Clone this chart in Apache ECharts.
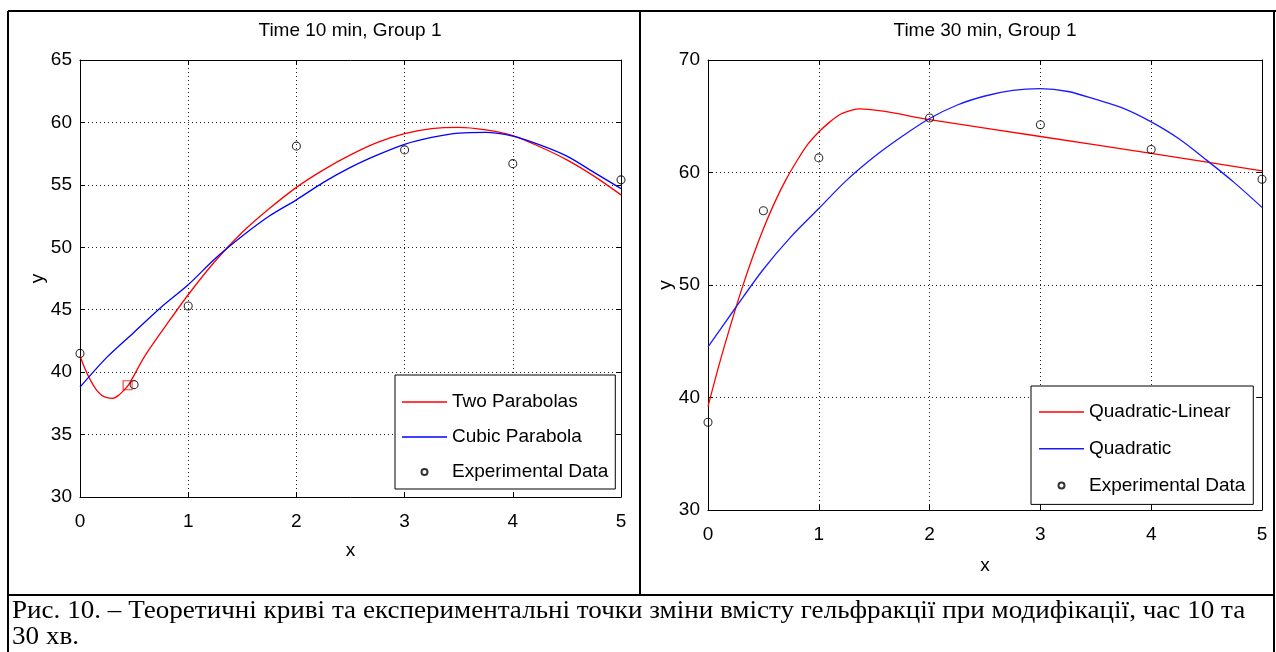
<!DOCTYPE html>
<html>
<head>
<meta charset="utf-8">
<script src="https://cdn.jsdelivr.net/npm/echarts@6/dist/echarts.min.js"></script>
<style>
  html, body { margin: 0; padding: 0; background: #fff; }
  #chart { width: 1276px; height: 652px; }
</style>
</head>
<body>
<div id="chart"></div>
<script>
// ---- Time 10 min, Group 1 ----
const t10ExpX = [0, 0.5, 1, 2, 3, 4, 5];
const t10ExpY = [41.5, 39.0, 45.3, 58.1, 57.8, 56.7, 55.4];

const t10TwoParX = [0, 0.05, 0.1, 0.15, 0.2, 0.25, 0.3, 0.35, 0.4, 0.45, 0.6, 0.8, 1.0, 1.25, 1.5, 1.75, 2.0, 2.25, 2.5, 2.75, 3.0, 3.25, 3.5, 3.75, 4.0, 4.25, 4.5, 4.75, 5.0];
const t10TwoParY = [41.3, 40.2, 39.3, 38.6, 38.15, 37.95, 37.9, 38.1, 38.5, 39.0, 41.3, 43.8, 46.2, 48.9, 51.2, 53.1, 54.8, 56.2, 57.4, 58.4, 59.1, 59.5, 59.6, 59.4, 58.95, 58.05, 57.0, 55.7, 54.2];

const t10CubicX = [0, 0.25, 0.5, 0.75, 1.0, 1.25, 1.5, 1.75, 2.0, 2.25, 2.5, 2.75, 3.0, 3.25, 3.5, 3.75, 4.0, 4.25, 4.5, 4.75, 5.0];
const t10CubicY = [38.8, 41.2, 43.2, 45.2, 47.0, 49.1, 50.9, 52.5, 53.8, 55.2, 56.4, 57.4, 58.25, 58.8, 59.15, 59.2, 58.9, 58.2, 57.3, 56.0, 54.7];

// junction of the two parabolas
const t10JoinX = [0.44];
const t10JoinY = [38.95];

// ---- Time 30 min, Group 1 ----
const t30ExpX = [0, 0.5, 1, 2, 3, 4, 5];
const t30ExpY = [37.8, 56.6, 61.3, 64.85, 64.25, 62.05, 59.4];

const t30QuadLinX = [0, 0.1, 0.2, 0.3, 0.4, 0.5, 0.6, 0.7, 0.8, 0.9, 1.0, 1.1, 1.2, 1.3, 1.37, 2.0, 3.0, 4.0, 5.0];
const t30QuadLinY = [39.2, 42.9, 46.3, 49.5, 52.4, 55.0, 57.3, 59.3, 61.0, 62.5, 63.6, 64.5, 65.2, 65.55, 65.65, 64.7, 63.2, 61.7, 60.15];

const t30QuadX = [0, 0.25, 0.5, 0.75, 1.0, 1.25, 1.5, 1.75, 2.0, 2.25, 2.5, 2.75, 3.0, 3.25, 3.5, 3.75, 4.0, 4.25, 4.5, 4.75, 5.0];
const t30QuadY = [44.5, 48.0, 51.4, 54.3, 56.8, 59.3, 61.4, 63.2, 64.8, 66.0, 66.8, 67.3, 67.45, 67.2, 66.5, 65.7, 64.5, 63.0, 61.1, 59.1, 56.9];

// axis ticks
const xTicks = [0, 1, 2, 3, 4, 5];
const t10YRange = [30, 65, 5];
const t30YRange = [30, 70, 10];

const zip = (xs, ys) => xs.map((x, i) => [x, ys[i]]);

const SANS = '"Liberation Sans", Arial, sans-serif';
const SERIF = '"Liberation Serif", "Times New Roman", serif';
const FS = 19;
const GRID_LINE = { color: '#222', width: 1, type: [1, 3] };
const LINE_ICON = 'path://M0,0H45V1.4H0Z';

function bottomX(gridIndex, nameGap) {
  return {
    type: 'value', gridIndex, position: 'bottom',
    min: xTicks[0], max: xTicks[xTicks.length - 1], interval: 1,
    name: 'x', nameLocation: 'middle', nameGap,
    nameTextStyle: { color: '#000', fontSize: FS, fontFamily: SANS },
    axisLine: { show: true, onZero: false, lineStyle: { color: '#000', width: 1 } },
    axisTick: { show: true, inside: true, length: 5, lineStyle: { color: '#000' } },
    axisLabel: { color: '#000', fontSize: FS, fontFamily: SANS, margin: 15 },
    splitLine: { show: true, lineStyle: GRID_LINE }
  };
}
function topX(gridIndex) {
  return {
    type: 'value', gridIndex, position: 'top',
    min: xTicks[0], max: xTicks[xTicks.length - 1], interval: 1,
    axisLine: { show: true, onZero: false, lineStyle: { color: '#000', width: 1 } },
    axisTick: { show: true, inside: true, length: 5, lineStyle: { color: '#000' } },
    axisLabel: { show: false }, splitLine: { show: false }
  };
}
function leftY(gridIndex, range, nameGap) {
  return {
    type: 'value', gridIndex, position: 'left',
    min: range[0], max: range[1], interval: range[2],
    name: 'y', nameLocation: 'middle', nameGap, nameRotate: 90,
    nameTextStyle: { color: '#000', fontSize: FS, fontFamily: SANS },
    axisLine: { show: true, onZero: false, lineStyle: { color: '#000', width: 1 } },
    axisTick: { show: true, inside: true, length: 5, lineStyle: { color: '#000' } },
    axisLabel: { color: '#000', fontSize: FS, fontFamily: SANS, margin: 8 },
    splitLine: { show: true, lineStyle: GRID_LINE }
  };
}
function rightY(gridIndex, range) {
  return {
    type: 'value', gridIndex, position: 'right',
    min: range[0], max: range[1], interval: range[2],
    axisLine: { show: true, onZero: false, lineStyle: { color: '#000', width: 1 } },
    axisTick: { show: true, inside: true, length: 5, lineStyle: { color: '#000' } },
    axisLabel: { show: false }, splitLine: { show: false }
  };
}
function curve(name, xs, ys, color, axisIdx) {
  return {
    type: 'line', name, data: zip(xs, ys),
    xAxisIndex: axisIdx[0], yAxisIndex: axisIdx[1],
    smooth: 0.3, symbol: 'none', showSymbol: false,
    lineStyle: { color, width: 1.3 }, itemStyle: { color },
    z: 3
  };
}
function points(name, xs, ys, axisIdx, symbol, size, color) {
  return {
    type: 'scatter', name, data: zip(xs, ys),
    xAxisIndex: axisIdx[0], yAxisIndex: axisIdx[1],
    symbol, symbolSize: size,
    itemStyle: { color: 'rgba(0,0,0,0)', borderColor: color, borderWidth: 1.1 },
    z: 5
  };
}
function legendBox(left, top, lineNames, dotName, padding, gap) {
  return {
    orient: 'vertical', left, top,
    data: lineNames.map(n => ({ name: n, icon: LINE_ICON })).concat([{ name: dotName }]),
    backgroundColor: '#fff', borderColor: '#000', borderWidth: 1,
    padding, itemGap: gap, itemWidth: 45, itemHeight: 6,
    selectedMode: false,
    textStyle: { color: '#000', fontSize: FS, fontFamily: SANS, lineHeight: 20 }
  };
}

const chart = echarts.init(document.getElementById('chart'), null, { renderer: 'canvas' });

const frame = { stroke: '#000', lineWidth: 2 };
chart.setOption({
  animation: false,
  backgroundColor: '#fff',
  grid: [
    { left: 80, top: 60, width: 541, height: 437 },
    { left: 708, top: 60, width: 554, height: 450 }
  ],
  xAxis: [bottomX(0, 44), topX(0), bottomX(1, 46), topX(1)],
  yAxis: [leftY(0, t10YRange, 31), rightY(0, t10YRange), leftY(1, t30YRange, 33), rightY(1, t30YRange)],
  legend: [
    legendBox(395, 375, ['Two Parabolas', 'Cubic Parabola'], 'Experimental Data', [17, 7, 7, 7], 15),
    legendBox(1031, 386, ['Quadratic-Linear', 'Quadratic'], 'Experimental Data', [16, 8, 9, 8], 16.7)
  ],
  series: [
    curve('Two Parabolas', t10TwoParX, t10TwoParY, '#ff0000', [0, 0]),
    curve('Cubic Parabola', t10CubicX, t10CubicY, '#0000ff', [0, 0]),
    points('Experimental Data', t10ExpX, t10ExpY, [0, 0], 'circle', 8, '#000'),
    points('Junction', t10JoinX, t10JoinY, [0, 0], 'rect', 9, '#ff0000'),
    curve('Quadratic-Linear', t30QuadLinX, t30QuadLinY, '#ff0000', [2, 2]),
    curve('Quadratic', t30QuadX, t30QuadY, '#1a1aff', [2, 2]),
    points('Experimental Data', t30ExpX, t30ExpY, [2, 2], 'circle', 8, '#000')
  ],
  graphic: [
    // table frame
    { type: 'line', shape: { x1: 8, y1: 11, x2: 1276, y2: 11 }, style: frame, silent: true },
    { type: 'line', shape: { x1: 8, y1: 11, x2: 8, y2: 652 }, style: frame, silent: true },
    { type: 'line', shape: { x1: 1274, y1: 11, x2: 1274, y2: 652 }, style: frame, silent: true },
    { type: 'line', shape: { x1: 640, y1: 11, x2: 640, y2: 595 }, style: frame, silent: true },
    { type: 'line', shape: { x1: 8, y1: 595, x2: 1274, y2: 595 }, style: frame, silent: true },
    // panel titles
    { type: 'text', x: 350, y: 31, silent: true,
      style: { text: 'Time 10 min, Group 1', align: 'center', verticalAlign: 'middle', fill: '#000', fontSize: 19, fontFamily: SANS } },
    { type: 'text', x: 985, y: 31, silent: true,
      style: { text: 'Time 30 min, Group 1', align: 'center', verticalAlign: 'middle', fill: '#000', fontSize: 19, fontFamily: SANS } },
    // figure caption
    { type: 'text', x: 12, y: 611, scaleX: 1.084, silent: true,
      style: { text: 'Рис. 10. – Теоретичні криві та експериментальні точки зміни вмісту гельфракції при модифікації, час 10 та', align: 'left', verticalAlign: 'middle', fill: '#000', fontSize: 25, fontFamily: SERIF } },
    { type: 'text', x: 12, y: 637, scaleX: 1.084, silent: true,
      style: { text: '30 хв.', align: 'left', verticalAlign: 'middle', fill: '#000', fontSize: 25, fontFamily: SERIF } }
  ]
});
</script>
</body>
</html>
